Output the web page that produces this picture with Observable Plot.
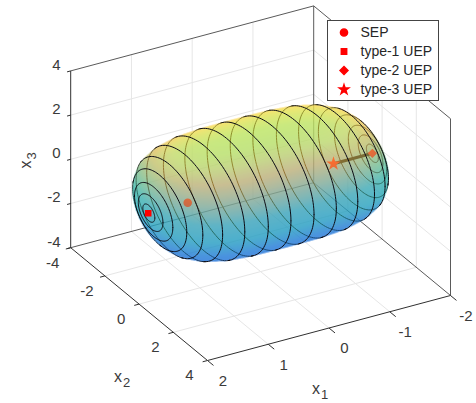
<!DOCTYPE html>
<html><head><meta charset="utf-8">
<script src="https://cdn.jsdelivr.net/npm/d3@7"></script>
<script src="https://cdn.jsdelivr.net/npm/@observablehq/plot@0.6"></script>
<style>
html,body{margin:0;padding:0;background:#fff}
#wrap{position:relative;width:476px;height:403px;overflow:hidden}
#legend{position:absolute;left:327px;top:20px;width:110px;height:79px;background:#fff;border:1px solid #444;}
#legend svg,#chart svg{display:block}
</style></head><body>
<div id="wrap"><div id="chart"></div><div id="legend"></div></div>
<script>
// values
const ticksX1 = [-2, -1, 0, 1, 2];
const ticksX2 = [-4, -2, 0, 2, 4];
const ticksX3 = [-4, -2, 0, 2, 4];
const legendNames = ["SEP", "type-1 UEP", "type-2 UEP", "type-3 UEP"];
const legendSymbols = ["circle", "square", "diamond2", "star"];
const pointsX1 = [1.2, 1.85, -1.84, -1.2];
// surface rings: position along x1 and ring radius
const ringX1 = [1.84, 1.81, 1.76, 1.66, 1.5, 1.25, 0.93, 0.56, 0.19, -0.19, -0.56, -0.93, -1.25, -1.5, -1.66, -1.76, -1.81, -1.84];
const ringR  = [0.35, 0.72, 1.12, 1.58, 1.95, 2.22, 2.38, 2.44, 2.45, 2.45, 2.44, 2.38, 2.22, 1.95, 1.58, 1.12, 0.72, 0.35];
const poleX1 = 1.87;
// surface colour by height x3
const surfaceHeights = [-2.5, -2.07, -1.2, -0.4, 0.4, 1.1, 1.7, 2.07, 2.5];
const surfaceColors = ["#0f62e4", "#1e6cdc", "#2484d2", "#2ab4b4", "#48bca8", "#a8c07c", "#ffc452", "#fce64e", "#eef840"];
const surfaceAlpha = 0.56;

// axonometric view of the MATLAB axes
const ox = 260.1, oy = 182.7;
const ex = [-60.75, 16.25], ey = [17.1, 14.1], ez = [0, -22.1];
const proj = (a, b, c) => [ox + a*ex[0] + b*ey[0] + c*ez[0], oy + a*ex[1] + b*ey[1] + c*ez[1]];
const view = [1, -ex[0]*1/ey[0] * 1, 0];
view[2] = (ex[1] + view[1]*ey[1]) / -ez[1];

// radial profile from the rings
const ringPts = [[poleX1, 0], ...ringX1.map((x, i) => [x, ringR[i]]), [-poleX1, 0]]
  .map(([x, r]) => [Math.atan2(r, x), Math.hypot(x, r)]).sort((p, q) => p[0] - q[0]);
const rhoScale = d3.scaleLinear(ringPts.map(p => p[0]), ringPts.map(p => p[1])).clamp(true);
const N = 1024, rhoTab = Float64Array.from({length: N + 1}, (_, i) => rhoScale(i / N * Math.PI));
const inside = (a, b, c) => {
  const r = Math.sqrt(b*b + c*c);
  const rho2 = a*a + r*r;
  if (rho2 > 9.5) return false;
  const k = Math.round(Math.atan2(r, a) / Math.PI * N);
  return rho2 <= rhoTab[k]*rhoTab[k];
};
const ratio = (a, b, c) => { const r = Math.hypot(b, c); return Math.hypot(a, r) / rhoTab[Math.round(Math.atan2(r, a) / Math.PI * N)]; };

function hit(sx, sy, side) {
  const a0 = (sx - ox) / ex[0];
  const c0 = (sy - oy - a0*ex[1]) / ez[1];
  const sgn = side;
  let prev = 3.2 * sgn, found = null;
  const step = 0.06;
  for (let t = 3.2; t >= -0.5; t -= step) {
    const tt = t * sgn;
    if (inside(a0 + tt*view[0], tt*view[1], c0 + tt*view[2])) { found = tt; break; }
    prev = tt;
  }
  if (found === null) return null;
  let lo = found, hi = prev;
  for (let i = 0; i < 6; ++i) {
    const m = (lo + hi) / 2;
    if (inside(a0 + m*view[0], m*view[1], c0 + m*view[2])) lo = m; else hi = m;
  }
  return c0 + lo*view[2];
}
// coarse reject around the silhouette
const sampler = side => (sx, sy) => {
  if (sx < 120 || sx > 400 || sy < 95 || sy > 272) return null;
  return hit(sx, sy, side);
};

// box lines
const seg = (p, q) => { const a = proj(...p), b = proj(...q); return {x1: a[0], y1: a[1], x2: b[0], y2: b[1]}; };
const gridLines = [
  ...ticksX1.slice(1, -1).flatMap(v => [seg([v,-4,-4],[v,-4,4]), seg([v,-4,-4],[v,4,-4])]),
  ...ticksX2.slice(1, -1).flatMap(v => [seg([-2,v,-4],[-2,v,4]), seg([-2,v,-4],[2,v,-4])]),
  ...ticksX3.slice(1, -1).flatMap(v => [seg([2,-4,v],[-2,-4,v]), seg([-2,-4,v],[-2,4,v])])
];
const backEdges = [
  seg([2,-4,4],[-2,-4,4]), seg([-2,-4,4],[-2,4,4]), seg([-2,4,4],[-2,4,-4]),
  seg([-2,-4,4],[-2,-4,-4]), seg([-2,-4,-4],[2,-4,-4]), seg([-2,-4,-4],[-2,4,-4])
];
const frontEdges = [seg([2,-4,4],[2,-4,-4]), seg([2,-4,-4],[2,4,-4]), seg([2,4,-4],[-2,4,-4])];
const tickLines = [
  ...ticksX1.map(v => seg([v,4,-4],[v,4.35,-4])),
  ...ticksX2.map(v => seg([2,v,-4],[2.08,v,-4])),
  ...ticksX3.map(v => seg([2,-4,v],[2.06,-4,v]))
];

// rings split in the halves facing towards and away from the viewer
const ringFront = [], ringBack = [];
ringX1.forEach((x, i) => {
  const pts = d3.range(0, 121).map(k => {
    const th = k / 120 * 2 * Math.PI, b = ringR[i]*Math.cos(th), c = ringR[i]*Math.sin(th);
    const e = 0.03;
    const front = ratio(x + e*view[0], b + e*view[1], c + e*view[2]) > ratio(x - e*view[0], b - e*view[1], c - e*view[2]);
    const [sx, sy] = proj(x, b, c);
    return {sx, sy, front};
  });
  let run = 0;
  pts.forEach((p, k) => {
    if (k && p.front !== pts[k-1].front) ++run;
    (p.front ? ringFront : ringBack).push({sx: p.sx, sy: p.sy, id: i + "-" + run});
    if (k && p.front !== pts[k-1].front) (p.front ? ringFront : ringBack).push({sx: pts[k-1].sx, sy: pts[k-1].sy, id: i + "-" + run});
  });
});

const pointRows = pointsX1.map((v, i) => { const [x, y] = proj(v, 0, 0); return {x, y, symbol: legendSymbols[i]}; });
const link = seg([pointsX1[3],0,0],[pointsX1[2],0,0]);
// tall, narrow diamond of the MATLAB marker set
const tallDiamond = {draw(ctx, size) {
  const h = Math.sqrt(size) * 0.82, w = h * 0.68;
  ctx.moveTo(0, -h); ctx.lineTo(w, 0); ctx.lineTo(0, h); ctx.lineTo(-w, 0); ctx.closePath();
}};
const symbolRange = ["circle", "square", tallDiamond, "star"];
const symbolR = {circle: 5.5, square: 3.6, diamond2: 4.6, star: 4};

const label = (text, [x, y], o) => Plot.text([text], {x: () => x, y: () => y, text: d => d, fontFamily: "Liberation Sans", fill: "#3a3a3a", ...o});
const labelMarks = [
  ...ticksX1.map(v => label(String(v), proj(v,4,-4), {dx: 15.5, dy: 20.5, fontSize: 15})),
  ...ticksX2.map(v => label(String(v), proj(2,v,-4), {dx: -18, dy: 15, fontSize: 15})),
  ...ticksX3.map(v => label(String(v), proj(2,-4,v), {dx: -10, dy: -6, fontSize: 15, textAnchor: "end"})),
  label("x1", proj(0,4,-4), {dx: -9, dy: 61, fontSize: 16}),
  label("x2", proj(2,0,-4), {dx: -17, dy: 73, fontSize: 16}),
  label("x3", proj(2,-4,0), {dx: -45, dy: 1, fontSize: 16, rotate: -90})
];

const chart = Plot.plot({
  width: 476, height: 403, margin: 0,
  x: {domain: [0, 476], range: [0, 476], axis: null},
  y: {domain: [0, 403], range: [0, 403], axis: null},
  color: {type: "linear", domain: surfaceHeights, range: surfaceColors, interpolate: "rgb"},
  symbol: {domain: legendSymbols, range: symbolRange},
  marks: [
    Plot.link(gridLines, {x1: "x1", y1: "y1", x2: "x2", y2: "y2", stroke: "#e6e6e6", strokeWidth: 1}),
    Plot.link(backEdges, {x1: "x1", y1: "y1", x2: "x2", y2: "y2", stroke: "#5a5a5a", strokeWidth: 1}),
    Plot.raster({x1: 0, x2: 476, y1: 0, y2: 403, width: 952, height: 806, fill: sampler(-1), fillOpacity: surfaceAlpha}),
    Plot.line(ringBack, {x: "sx", y: "sy", z: "id", stroke: "#101010", strokeWidth: 1}),
    Plot.link([link], {x1: "x1", y1: "y1", x2: "x2", y2: "y2", stroke: "#000", strokeWidth: 3}),
    Plot.dot(pointRows.filter(d => d.symbol !== "square"), {x: "x", y: "y", symbol: "symbol", fill: "#ff0000", stroke: "#ff0000", r: d => symbolR[d.symbol]}),
    Plot.raster({x1: 0, x2: 476, y1: 0, y2: 403, width: 952, height: 806, fill: sampler(1), fillOpacity: surfaceAlpha}),
    Plot.line(ringFront, {x: "sx", y: "sy", z: "id", stroke: "#0c0c14", strokeWidth: 1}),
    Plot.dot(pointRows.filter(d => d.symbol === "square"), {x: "x", y: "y", symbol: "symbol", fill: "#ff0000", stroke: "#ff0000", r: d => symbolR[d.symbol]}),
    Plot.link(frontEdges, {x1: "x1", y1: "y1", x2: "x2", y2: "y2", stroke: "#303030", strokeWidth: 1}),
    Plot.link(tickLines, {x1: "x1", y1: "y1", x2: "x2", y2: "y2", stroke: "#303030", strokeWidth: 1}),
    ...labelMarks
  ]
});
// subscripts on the axis names
d3.select(chart).selectAll("text").each(function () {
  const el = d3.select(this), s = el.text();
  if (!/^x[123]$/.test(s)) return;
  const host = el.selectAll("tspan").empty() ? el : el.select("tspan");
  host.text(null);
  host.append("tspan").text("x");
  host.append("tspan").attr("dy", "0.4em").attr("dx", "1px").attr("font-size", "13px").text(s[1]);
});
document.getElementById("chart").append(chart);

const legendRows = legendNames.map((name, i) => ({name, symbol: legendSymbols[i]}));
const legendR = {circle: 5.4, square: 3.9, diamond2: 5.4, star: 3.6};
const legend = Plot.plot({
  width: 110, height: 79, margin: 0,
  x: {domain: [0, 110], range: [0, 110], axis: null},
  y: {domain: legendNames, range: [10, 68.5], axis: null, type: "point", padding: 0},
  symbol: {domain: legendSymbols, range: symbolRange},
  style: {background: "transparent"},
  marks: [
    Plot.dot(legendRows, {x: () => 15.5, y: "name", symbol: "symbol", fill: "#ff0000", stroke: "#ff0000", r: d => legendR[d.symbol]}),
    Plot.text(legendRows, {x: () => 32, y: "name", text: "name", textAnchor: "start", fontFamily: "Liberation Sans", fontSize: 14, fill: "#262626"})
  ]
});
document.getElementById("legend").append(legend);
</script></body></html>
